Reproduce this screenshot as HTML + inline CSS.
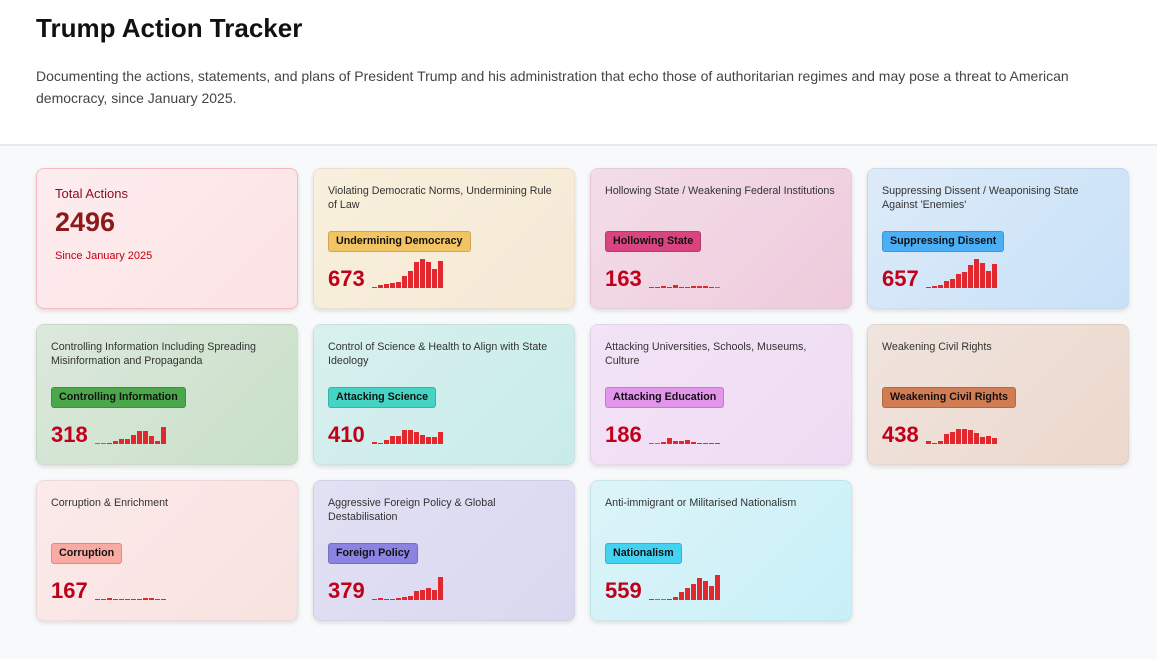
<!DOCTYPE html>
<html><head><meta charset="utf-8">
<style>
*{box-sizing:border-box;margin:0;padding:0}
body{width:1157px;height:659px;overflow:hidden;background:#f8f9fb;font-family:"Liberation Sans",Arial,sans-serif;color:#222}
header{height:146px;background:#fff;border-bottom:2px solid #e6e8ec;padding:12px 36px}
h1{font-size:26px;font-weight:bold;color:#111;line-height:32px}
.desc{margin-top:21px;font-size:14px;line-height:22px;color:#444;width:1090px}
.card{position:absolute;width:262px;height:141px;border-radius:8px;box-shadow:0 2px 5px rgba(0,0,0,.12);border:1px solid rgba(0,0,0,.05)}
.ct{position:absolute;left:14px;top:15px;width:235px;font-size:10.7px;line-height:14px;color:#333}
.badge{position:absolute;left:14px;top:62px;height:21px;padding:0 7px;font-size:10.7px;font-weight:bold;line-height:19px;border-radius:3px;color:#111;border:1px solid rgba(0,0,0,.15)}
.num{position:absolute;left:14px;top:97px;font-size:22px;font-weight:bold;color:#c0001a;line-height:26px}
svg.sp{position:absolute;top:89px}
</style></head><body>
<header>
<h1>Trump Action Tracker</h1>
<p class="desc">Documenting the actions, statements, and plans of President Trump and his administration that echo those of authoritarian regimes and may pose a threat to American democracy, since January 2025.</p>
</header>
<div class="card" style="left:36px;top:168px;background:linear-gradient(135deg,#fdecee,#fde3e5);border:1px solid #f5b9bf">
<div style="position:absolute;left:18px;top:17px;font-size:13px;color:#8b1020">Total Actions</div>
<div style="position:absolute;left:18px;top:38px;font-size:27px;font-weight:bold;color:#8b1a1a">2496</div>
<div style="position:absolute;left:18px;top:81px;font-size:11px;color:#c00010">Since January 2025</div>
</div>
<div id="cards"></div>
<script>
const titles=["Violating Democratic Norms, Undermining Rule of Law","Hollowing State / Weakening Federal Institutions","Suppressing Dissent / Weaponising State Against\u00a0'Enemies'","Controlling Information Including Spreading Misinformation and Propaganda","Control of Science & Health to Align with State Ideology","Attacking Universities, Schools, Museums, Culture","Weakening Civil Rights","Corruption & Enrichment","Aggressive Foreign Policy & Global Destabilisation","Anti-immigrant or Militarised Nationalism"];
const badges=["Undermining Democracy","Hollowing State","Suppressing Dissent","Controlling Information","Attacking Science","Attacking Education","Weakening Civil Rights","Corruption","Foreign Policy","Nationalism"];
const totals=[673,163,657,318,410,186,438,167,379,559];
const s0=[1,3,4,5,6,12,17,26,29,26,19,27];
const s1=[1,1,2,1,3,1,1,2,2,2,1,0.5];
const s2=[1,2,3,7,9,14,16,23,29,25,17,24];
const s3=[0.5,0.5,1,3,5,5,9,13,13,8,3,17];
const s4=[2,1,4,8,8,14,14,12,9,7,7,12];
const s5=[0.5,0,2,6,3,3,4,2,1,1,1,1];
const s6=[3,1,3,10,12,15,15,14,11,7,8,6];
const s7=[1,1,2,1,1,1,1,1,2,2,1,1];
const s8=[1,2,1,1,2,3,4,9,10,12,10,23];
const s9=[1,0,0,1,3,8,12,16,22,19,14,25];
const series=[s0,s1,s2,s3,s4,s5,s6,s7,s8,s9];
const bgs=["linear-gradient(135deg,#f8f0dc,#f5e9d6)","linear-gradient(135deg,#f3dde8,#eecbdc)","linear-gradient(135deg,#ddebf8,#c8e1f8)","linear-gradient(135deg,#dce8dc,#c8e0c8)","linear-gradient(135deg,#d8f0ee,#c8ecea)","linear-gradient(135deg,#f3e3f6,#efdcf4)","linear-gradient(135deg,#f0e4de,#ecd8cc)","linear-gradient(135deg,#fbeaea,#f8e2e0)","linear-gradient(135deg,#e2e0f3,#dad8f0)","linear-gradient(135deg,#dcf4f8,#c8f0f8)"];
const bcol=["#f2c464","#d9437f","#4aaff5","#4aa84a","#45d3c3","#e395eb","#d27c54","#f8aaa3","#8b83e2","#43d2f2"];
const xs=[313,590,867,36,313,590,867,36,313,590];
const ys=[168,168,168,324,324,324,324,480,480,480];
const yMax=29, hPx=29, barW=6;
function yScale(v){return v/yMax*hPx;}
const cont=document.getElementById('cards');
titles.forEach((t,i)=>{
 const c=document.createElement('div');c.className='card';
 
 
 c.style.left=xs[i]+'px';c.style.top=ys[i]+'px';c.style.background=bgs[i];
 const ti=document.createElement('div');ti.className='ct';ti.textContent=t;
 
 
 const b=document.createElement('div');b.className='badge';b.textContent=badges[i];b.style.background=bcol[i];
 
 
 const n=document.createElement('div');n.className='num';n.textContent=totals[i];
 
 
 c.appendChild(ti);c.appendChild(b);c.appendChild(n);
 const w=String(totals[i]).length*12.2;
 const ns='http://www.w3.org/2000/svg';
 const sv=document.createElementNS(ns,'svg');sv.setAttribute('class','sp');
 
 
 sv.setAttribute('width',series[i].length*barW);sv.setAttribute('height',hPx+1);
 sv.style.left=(14+w+7)+'px';
 series[i].forEach((v,j)=>{
  const r=document.createElementNS(ns,'rect');
  
  
  const h=Math.max(yScale(v),0.8);
  r.setAttribute('x',j*barW);r.setAttribute('width',barW-1);
  r.setAttribute('y',hPx+1-h);r.setAttribute('height',h);r.setAttribute('fill','#e0282e');
  sv.appendChild(r);
 });
 c.appendChild(sv);cont.appendChild(c);
});
</script>
</body></html>
